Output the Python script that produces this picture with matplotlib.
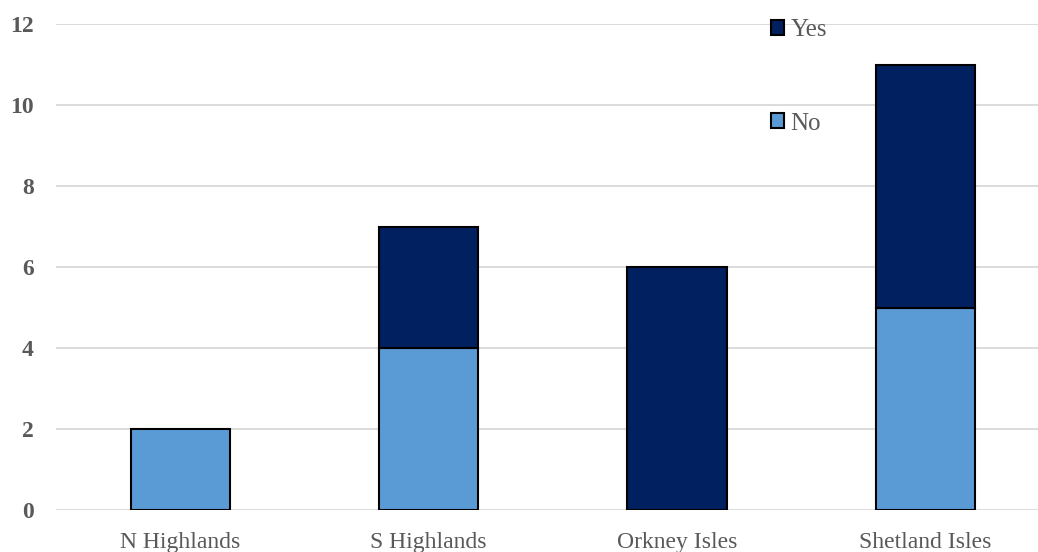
import matplotlib.pyplot as plt
from matplotlib.patches import Patch
import numpy as np

# data
regions = ["N Highlands", "S Highlands", "Orkney Isles", "Shetland Isles"]
no_vals = [2, 4, 0, 5]
yes_vals = [0, 3, 6, 6]

plt.rcParams["font.family"] = ["Liberation Serif", "DejaVu Serif"]

fig = plt.figure(figsize=(10.38, 5.52), dpi=100)
ax = fig.add_axes([56 / 1038, 1 - 510 / 552, 982 / 1038, 486 / 552])

x = np.arange(len(regions))
width = 0.40
no_bars = ax.bar(x, no_vals, width, color="#5B9BD5", edgecolor="black",
                 linewidth=1.5, zorder=3)
yes_bars = ax.bar(x, yes_vals, width, bottom=no_vals, color="#002060",
                  edgecolor="black", linewidth=1.5, zorder=3)
# hide zero-height segments so they don't leave an outline
for b in list(no_bars) + list(yes_bars):
    if b.get_height() == 0:
        b.set_visible(False)

ax.set_xlim(-0.5, 3.453)
ax.set_ylim(0, 12)
ax.set_yticks(range(0, 13, 2))
ax.set_xticks(x)
ax.set_xticklabels(regions, fontsize=17, color="#595959")
for lbl in ax.get_yticklabels():
    lbl.set_fontweight("bold")
    lbl.set_fontsize(17)
    lbl.set_color("#595959")

ax.yaxis.grid(True, color="#D9D9D9", linewidth=1.3, zorder=0)
ax.set_axisbelow(True)
for s in ax.spines.values():
    s.set_visible(False)
ax.tick_params(length=0)
ax.tick_params(axis="y", pad=16)
ax.tick_params(axis="x", pad=16)

handles = [Patch(facecolor="#002060", edgecolor="black", linewidth=1.5),
           Patch(facecolor="#5B9BD5", edgecolor="black", linewidth=1.5)]
leg = fig.legend(handles=handles, labels=["Yes", "No"],
                 loc="upper left", bbox_to_anchor=(758 / 1038, 1 - 7 / 552),
                 frameon=False, fontsize=18, labelspacing=2.85,
                 handlelength=0.55, handleheight=0.55, handletextpad=0.25,
                 borderpad=0)
for t in leg.get_texts():
    t.set_color("#595959")

fig.savefig("out.png", dpi=100)
